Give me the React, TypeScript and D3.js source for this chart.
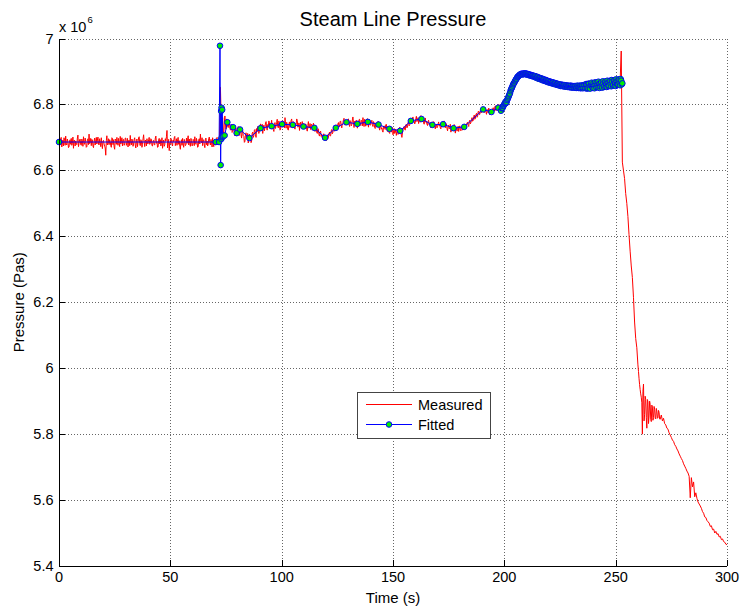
import React from "react";
import * as d3 from "d3";

// Measured pressure (kPa), 0-200 s: one row per 10 s, samples every 0.25 s
const measuredFineRows: number[][] = [
  [6694, 6675, 6680, 6697, 6700, 6671, 6683, 6692, 6674, 6699, 6691, 6676, 6704, 6681, 6677, 6695, 6688, 6669, 6671, 6690, 6693, 6679, 6697, 6676, 6682, 6701, 6667, 6690, 6692, 6674, 6689, 6680, 6678, 6698, 6707, 6672, 6681, 6693, 6695, 6678],
  [6676, 6695, 6690, 6673, 6702, 6684, 6679, 6698, 6687, 6670, 6672, 6693, 6696, 6678, 6710, 6681, 6684, 6697, 6675, 6694, 6692, 6674, 6669, 6688, 6698, 6677, 6689, 6700, 6680, 6692, 6701, 6679, 6677, 6696, 6685, 6672, 6699, 6680, 6666, 6689],
  [6691, 6680, 6673, 6668, 6646, 6690, 6705, 6677, 6682, 6696, 6678, 6693, 6688, 6675, 6670, 6699, 6697, 6678, 6693, 6671, 6664, 6695, 6690, 6679, 6700, 6684, 6676, 6697, 6683, 6672, 6703, 6680, 6687, 6699, 6674, 6693, 6694, 6676, 6681, 6698],
  [6698, 6676, 6684, 6697, 6671, 6690, 6692, 6675, 6706, 6683, 6677, 6695, 6689, 6673, 6680, 6694, 6699, 6677, 6668, 6690, 6695, 6672, 6685, 6699, 6702, 6681, 6675, 6693, 6690, 6670, 6679, 6696, 6708, 6685, 6672, 6692, 6688, 6674, 6696, 6681],
  [6680, 6693, 6700, 6679, 6683, 6696, 6694, 6675, 6674, 6690, 6691, 6678, 6677, 6698, 6704, 6682, 6688, 6670, 6671, 6692, 6697, 6680, 6693, 6674, 6682, 6699, 6667, 6685, 6692, 6673, 6678, 6696, 6689, 6702, 6721, 6668, 6681, 6694, 6660, 6684],
  [6681, 6697, 6694, 6678, 6674, 6692, 6687, 6699, 6703, 6675, 6683, 6696, 6676, 6693, 6700, 6679, 6690, 6673, 6664, 6686, 6693, 6676, 6697, 6680, 6670, 6694, 6688, 6675, 6678, 6698, 6682, 6692, 6705, 6677, 6695, 6681, 6673, 6697, 6691, 6674],
  [6676, 6694, 6690, 6675, 6702, 6681, 6679, 6697, 6687, 6670, 6672, 6692, 6696, 6680, 6710, 6688, 6684, 6699, 6675, 6693, 6692, 6677, 6669, 6695, 6698, 6678, 6689, 6674, 6680, 6697, 6701, 6684, 6677, 6694, 6685, 6671, 6699, 6680, 6672, 6690],
  [6694, 6677, 6680, 6697, 6700, 6678, 6683, 6695, 6688, 6760, 6852, 6780, 6700, 6735, 6760, 6720, 6712, 6745, 6765, 6738, 6725, 6756, 6752, 6733, 6730, 6744, 6748, 6728, 6722, 6735, 6740, 6715, 6718, 6730, 6736, 6712, 6705, 6722, 6728, 6706],
  [6712, 6725, 6733, 6714, 6706, 6727, 6730, 6708, 6698, 6716, 6722, 6705, 6703, 6685, 6688, 6709, 6714, 6700, 6696, 6712, 6683, 6702, 6710, 6693, 6700, 6684, 6689, 6712, 6716, 6700, 6705, 6722, 6724, 6708, 6700, 6727, 6718, 6733, 6731, 6712],
  [6720, 6733, 6741, 6722, 6725, 6740, 6712, 6731, 6737, 6720, 6730, 6744, 6748, 6729, 6722, 6739, 6735, 6750, 6744, 6728, 6726, 6741, 6752, 6733, 6731, 6724, 6718, 6739, 6745, 6727, 6736, 6746, 6755, 6732, 6729, 6750, 6740, 6722, 6724, 6743],
  [6750, 6736, 6731, 6749, 6745, 6729, 6760, 6741, 6728, 6746, 6738, 6724, 6722, 6739, 6747, 6730, 6741, 6752, 6756, 6735, 6730, 6748, 6744, 6729, 6725, 6742, 6739, 6756, 6752, 6731, 6733, 6744, 6721, 6738, 6746, 6729, 6737, 6748, 6727, 6741],
  [6742, 6730, 6726, 6741, 6738, 6724, 6719, 6736, 6748, 6728, 6731, 6742, 6724, 6737, 6740, 6722, 6729, 6743, 6735, 6721, 6718, 6730, 6732, 6715, 6712, 6727, 6725, 6708, 6704, 6716, 6719, 6703, 6708, 6699, 6694, 6710, 6711, 6693, 6698, 6704],
  [6690, 6703, 6708, 6696, 6701, 6712, 6716, 6704, 6705, 6720, 6724, 6711, 6715, 6728, 6733, 6719, 6720, 6734, 6738, 6725, 6726, 6741, 6745, 6731, 6734, 6748, 6750, 6735, 6729, 6742, 6744, 6754, 6758, 6740, 6737, 6750, 6752, 6738, 6741, 6755],
  [6756, 6740, 6733, 6751, 6748, 6735, 6739, 6753, 6762, 6744, 6730, 6749, 6745, 6735, 6752, 6740, 6728, 6746, 6741, 6754, 6755, 6740, 6736, 6752, 6749, 6735, 6760, 6744, 6733, 6755, 6746, 6734, 6739, 6750, 6757, 6741, 6731, 6752, 6748, 6737],
  [6738, 6747, 6752, 6739, 6733, 6748, 6745, 6730, 6727, 6744, 6741, 6731, 6735, 6749, 6748, 6730, 6722, 6740, 6737, 6725, 6729, 6720, 6716, 6733, 6735, 6727, 6724, 6738, 6740, 6725, 6718, 6734, 6730, 6715, 6712, 6729, 6728, 6716, 6721, 6730],
  [6708, 6719, 6727, 6712, 6715, 6725, 6706, 6718, 6725, 6709, 6712, 6726, 6731, 6715, 6718, 6707, 6700, 6714, 6723, 6728, 6733, 6725, 6722, 6738, 6740, 6729, 6731, 6745, 6748, 6735, 6739, 6752, 6757, 6744, 6745, 6760, 6762, 6749, 6750, 6741],
  [6745, 6757, 6764, 6748, 6751, 6760, 6742, 6753, 6758, 6746, 6766, 6752, 6747, 6761, 6755, 6744, 6740, 6753, 6759, 6746, 6748, 6740, 6736, 6749, 6752, 6738, 6741, 6745, 6729, 6740, 6747, 6731, 6735, 6748, 6744, 6733, 6726, 6738, 6740, 6729],
  [6732, 6741, 6747, 6735, 6738, 6729, 6726, 6740, 6745, 6735, 6733, 6746, 6750, 6736, 6729, 6742, 6741, 6727, 6720, 6733, 6737, 6726, 6728, 6740, 6716, 6725, 6734, 6721, 6722, 6735, 6739, 6724, 6713, 6728, 6730, 6719, 6724, 6734, 6718, 6729],
  [6735, 6724, 6720, 6733, 6731, 6722, 6727, 6736, 6740, 6729, 6725, 6735, 6738, 6744, 6746, 6737, 6733, 6748, 6752, 6741, 6745, 6755, 6760, 6749, 6751, 6762, 6768, 6755, 6757, 6770, 6773, 6761, 6764, 6778, 6780, 6769, 6770, 6782, 6786, 6775],
  [6778, 6787, 6792, 6780, 6775, 6789, 6786, 6776, 6770, 6785, 6782, 6774, 6789, 6779, 6768, 6784, 6781, 6772, 6774, 6786, 6790, 6782, 6779, 6793, 6796, 6781, 6784, 6795, 6791, 6788, 6800, 6791, 6782, 6797, 6795, 6786, 6788, 6793, 6780, 6796],
];

// Measured pressure (kPa), 200-260 s: one row per 10 s, samples every 0.5 s
const measuredMidRows: number[][] = [
  [6806, 6801, 6819, 6815, 6835, 6826, 6850, 6843, 6863, 6862, 6876, 6872, 6886, 6883, 6893, 6888, 6896, 6890, 6897, 6889],
  [6897, 6888, 6894, 6885, 6891, 6882, 6889, 6880, 6885, 6877, 6883, 6874, 6880, 6872, 6878, 6870, 6876, 6868, 6874, 6866],
  [6870, 6863, 6868, 6860, 6866, 6858, 6864, 6857, 6862, 6855, 6861, 6853, 6859, 6852, 6858, 6851, 6857, 6850, 6856, 6850],
  [6857, 6849, 6856, 6850, 6858, 6848, 6857, 6851, 6856, 6849, 6859, 6850, 6858, 6852, 6860, 6851, 6859, 6853, 6861, 6852],
  [6862, 6851, 6863, 6853, 6864, 6852, 6866, 6855, 6865, 6854, 6867, 6856, 6868, 6857, 6869, 6858, 6870, 6857, 6871, 6859],
  [6872, 6860, 6873, 6862, 6870, 6962, 6625, 6600, 6575, 6530, 6500, 6460, 6405, 6355, 6310, 6275, 6215, 6140, 6090, 6062],
];

// Measured pressure (kPa), 260-270 s, samples every 0.25 s
const measuredDropRow: number[] = [
  6010, 5990, 5968, 5950, 5935, 5922, 5912, 5895, 5800, 5930, 5952, 5840, 5860, 5915, 5905, 5850, 5818, 5905, 5898, 5832,
  5855, 5900, 5890, 5845, 5838, 5888, 5882, 5842, 5850, 5884, 5876, 5848, 5846, 5878, 5870, 5848, 5850, 5872, 5866, 5846,
];

// Measured pressure (kPa), 270-300 s: one row per 10 s, samples every 0.5 s
const measuredTailRows: number[][] = [
  [5845, 5858, 5840, 5848, 5832, 5828, 5818, 5815, 5804, 5797, 5790, 5782, 5778, 5768, 5763, 5755, 5749, 5740, 5733, 5726],
  [5720, 5710, 5703, 5696, 5688, 5682, 5672, 5607, 5668, 5640, 5655, 5610, 5622, 5605, 5594, 5588, 5582, 5575, 5565, 5560],
  [5549, 5547, 5538, 5534, 5530, 5520, 5522, 5510, 5512, 5500, 5505, 5496, 5498, 5488, 5490, 5480, 5482, 5474, 5472, 5466],
  [5465],
];

// Fitted pressure up to 198.5 s, [time s, kPa]
const fittedSparse: [number, number][] = [
  [0, 6686], [70.4, 6686], [71.9, 6686], [72.3, 6978], [72.6, 6616], [72.8, 6780], [72.9, 6695],
  [73.0, 6790], [73.1, 6700], [73.3, 6784], [73.5, 6702], [73.8, 6704], [74.4, 6706], [75.6, 6746],
  [78.2, 6731], [79.8, 6713], [81.3, 6724], [85.5, 6698], [90.5, 6728], [95.5, 6734], [100.2, 6740],
  [105, 6738], [109.8, 6733], [114.7, 6729], [119.5, 6699], [124.3, 6729], [129.1, 6746], [134, 6741],
  [138.7, 6747], [143.5, 6739], [148.4, 6726], [153.2, 6720], [158, 6750], [162.8, 6756], [167.7, 6738],
  [172.5, 6740], [177.2, 6728], [182, 6732], [190.5, 6785], [194.2, 6777], [197.3, 6790], [198.5, 6781],
];

// Fitted pressure from 199 s (kPa): one row per 5 s, samples every 0.25 s
const fittedDenseRows: number[][] = [
  [6788, 6790, 6795, 6797, 6801, 6803, 6808, 6804, 6807, 6813, 6817, 6821, 6825, 6830, 6833, 6840, 6845, 6849, 6852, 6857],
  [6861, 6864, 6866, 6870, 6873, 6876, 6878, 6882, 6884, 6885, 6887, 6889, 6890, 6892, 6891, 6893, 6893, 6891, 6892, 6894],
  [6894, 6892, 6892, 6894, 6893, 6890, 6891, 6892, 6891, 6888, 6889, 6890, 6889, 6886, 6887, 6888, 6887, 6884, 6885, 6886],
  [6885, 6881, 6882, 6884, 6882, 6878, 6879, 6881, 6880, 6876, 6877, 6879, 6877, 6873, 6874, 6876, 6875, 6871, 6872, 6874],
  [6872, 6868, 6869, 6871, 6870, 6866, 6867, 6869, 6868, 6864, 6865, 6867, 6866, 6862, 6863, 6865, 6864, 6860, 6861, 6863],
  [6862, 6858, 6859, 6861, 6860, 6856, 6857, 6860, 6859, 6855, 6856, 6859, 6858, 6854, 6855, 6858, 6857, 6853, 6854, 6857],
  [6856, 6852, 6853, 6857, 6856, 6851, 6852, 6856, 6855, 6851, 6852, 6856, 6855, 6850, 6851, 6857, 6855, 6850, 6852, 6857],
  [6855, 6849, 6851, 6858, 6856, 6849, 6852, 6859, 6858, 6851, 6849, 6862, 6860, 6848, 6850, 6863, 6862, 6853, 6848, 6858],
  [6861, 6866, 6853, 6850, 6864, 6857, 6849, 6867, 6859, 6852, 6866, 6858, 6852, 6869, 6862, 6850, 6855, 6864, 6868, 6856],
  [6851, 6870, 6864, 6853, 6857, 6866, 6870, 6859, 6853, 6872, 6866, 6855, 6858, 6869, 6872, 6861, 6855, 6874, 6869, 6857],
  [6860, 6871, 6874, 6862, 6856, 6876, 6870, 6859, 6862, 6873, 6876, 6864, 6858, 6877, 6872, 6861, 6864],
];

const xTicks = [0, 50, 100, 150, 200, 250, 300];
const yTicks = [5.4e6, 5.6e6, 5.8e6, 6.0e6, 6.2e6, 6.4e6, 6.6e6, 6.8e6, 7.0e6];
const yTickLabels = ["5.4", "5.6", "5.8", "6", "6.2", "6.4", "6.6", "6.8", "7"];

const FONT = "'Liberation Sans', Arial, Helvetica, sans-serif";

type Pt = [number, number];

export default function App() {
  const W = 742, H = 608;
  const left = 59, right = 727, top = 38.5, bottom = 566;
  const x = d3.scaleLinear().domain([0, 300]).range([left, right]);
  const y = d3.scaleLinear().domain([5.4e6, 7.0e6]).range([bottom, top]);

  const rowsToPts = (rows: number[][], t0: number, rowSpan: number, dt: number): Pt[] =>
    rows.flatMap((row, r) => row.map((v, j) => [t0 + r * rowSpan + j * dt, v * 1000] as Pt));

  const measured: Pt[] = [
    ...rowsToPts(measuredFineRows, 0, 10, 0.25),
    ...rowsToPts(measuredMidRows, 200, 10, 0.5),
    ...rowsToPts([measuredDropRow], 260, 10, 0.25),
    ...rowsToPts(measuredTailRows, 270, 10, 0.5),
  ];
  const fit: Pt[] = [
    ...fittedSparse.map(([t, v]) => [t, v * 1000] as Pt),
    ...rowsToPts(fittedDenseRows, 199, 5, 0.25),
  ];

  const line = d3.line<Pt>().x((d) => x(d[0])).y((d) => y(d[1]));
  const tickLen = 6;
  const px = (v: number) => Math.round(v) + 0.5;

  return (
    <svg width={W} height={H} style={{ position: "absolute", left: 0, top: 0, background: "#fff" }} fontFamily={FONT}>
      <rect x={0} y={0} width={W} height={H} fill="#fff" />
      <g stroke="#666" strokeWidth={1} strokeDasharray="1,2" shapeRendering="crispEdges">
        {xTicks.map((t) => (
          <line key={"gx" + t} x1={px(x(t))} x2={px(x(t))} y1={top} y2={bottom} />
        ))}
        {yTicks.map((t) => (
          <line key={"gy" + t} x1={left} x2={right} y1={px(y(t))} y2={px(y(t))} />
        ))}
      </g>
      <path d={line(measured) || ""} fill="none" stroke="#ff0000" strokeWidth={1} strokeLinejoin="round" />
      <path d={line(fit) || ""} fill="none" stroke="#0000ff" strokeWidth={1} />
      <g>
        {fit.map((d, i) => (
          <circle key={"m" + i} cx={x(d[0])} cy={y(d[1])} r={2.8} fill="#00ee00" stroke="#0000ff" strokeWidth={1} />
        ))}
      </g>
      <g stroke="#000" strokeWidth={1} shapeRendering="crispEdges">
        <line x1={px(left)} x2={px(left)} y1={top} y2={bottom + 0.5} />
        <line x1={left} x2={right} y1={bottom + 0.5} y2={bottom + 0.5} />
        {xTicks.map((t) => (
          <line key={"tx" + t} x1={px(x(t))} x2={px(x(t))} y1={bottom} y2={bottom - tickLen} />
        ))}
        {yTicks.map((t) => (
          <line key={"ty" + t} x1={left} x2={left + tickLen} y1={px(y(t))} y2={px(y(t))} />
        ))}
      </g>
      <g fontSize={14.5} fill="#000">
        {xTicks.map((t) => (
          <text key={"lx" + t} x={x(t)} y={bottom + 15.5} textAnchor="middle">{t}</text>
        ))}
        {yTicks.map((t, i) => (
          <text key={"ly" + t} x={left - 5.5} y={y(t) + 5} textAnchor="end">{yTickLabels[i]}</text>
        ))}
      </g>
      <text x={left} y={32} fontSize={14.5} fill="#000">x 10</text>
      <text x={left + 28.5} y={23} fontSize={9.5} fill="#000">6</text>
      <text x={(left + right) / 2} y={26} fontSize={20} textAnchor="middle" fill="#000">Steam Line Pressure</text>
      <text x={(left + right) / 2} y={603} fontSize={15} textAnchor="middle" fill="#000">Time (s)</text>
      <text transform={`translate(24, ${(top + bottom) / 2}) rotate(-90)`} fontSize={15} textAnchor="middle" fill="#000">Pressure (Pas)</text>
      <g>
        <rect x={357.5} y={392.5} width={133} height={46} fill="#fff" stroke="#444" strokeWidth={1} />
        <line x1={366} x2={412} y1={404.5} y2={404.5} stroke="#ff0000" strokeWidth={1} />
        <text x={418} y={410} fontSize={14.5} fill="#000">Measured</text>
        <line x1={366} x2={412} y1={424.5} y2={424.5} stroke="#0000ff" strokeWidth={1} />
        <circle cx={389} cy={424.5} r={2.8} fill="#00ee00" stroke="#0000ff" strokeWidth={1} />
        <text x={418} y={430} fontSize={14.5} fill="#000">Fitted</text>
      </g>
    </svg>
  );
}
